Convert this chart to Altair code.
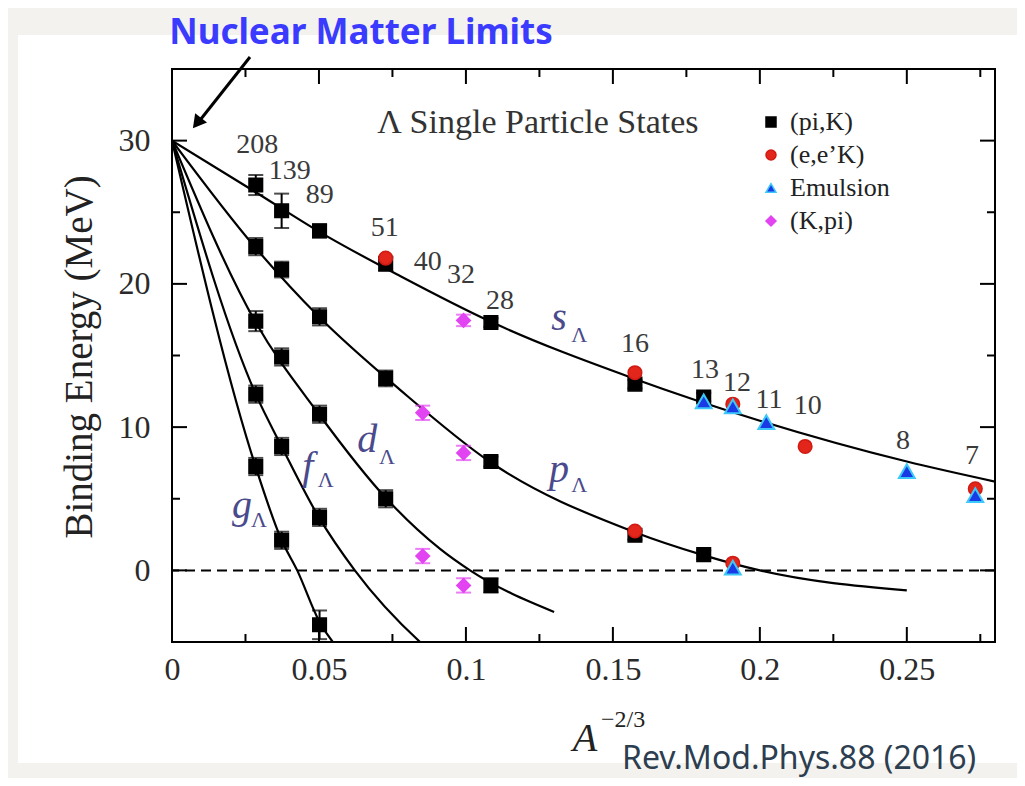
import altair as alt
import pandas as pd

# ---------------- data ----------------
x_domain = [0, 0.28]
y_domain = [-5, 35]
x_label_values = [0, 0.05, 0.1, 0.15, 0.2, 0.25]
x_major = [0.05, 0.10, 0.15, 0.20, 0.25]
x_minor = [0.025, 0.075, 0.125, 0.175, 0.225, 0.275]
y_major = [0, 10, 20, 30]
y_minor = [5, 15, 25]
zero_level = [0]

# model curves
s_x = [0, 0.0285, 0.05, 0.0776, 0.108, 0.157, 0.2, 0.25, 0.28]
s_y = [30, 26.4, 23.65, 20.55, 17.4, 13.4, 10.45, 7.6, 6.2]
p_x = [0, 0.0285, 0.05, 0.0776, 0.108, 0.157, 0.181, 0.2, 0.25]
p_y = [30, 22.5, 17.7, 12.6, 7.6, 2.7, 1.05, 0.0, -1.4]
d_x = [0, 0.0285, 0.05, 0.073, 0.0912, 0.1014, 0.13]
d_y = [30, 17.3, 10.9, 5.0, 1.5, 0.0, -2.9]
f_x = [0, 0.0285, 0.0373, 0.05, 0.0622, 0.0844, 0.09]
f_y = [30, 12.3, 8.65, 3.7, 0.0, -5.0, -6.0]
g_x = [0, 0.0285, 0.0373, 0.0426, 0.0502, 0.0547, 0.058]
g_y = [30, 7.2, 2.1, 0.0, -3.6, -5.0, -5.8]

# (pi,K)
pik_x = [0.0285, 0.0373, 0.0502, 0.0727, 0.1085, 0.1575, 0.1809,
         0.0285, 0.0373, 0.0502, 0.0727, 0.1085, 0.1575, 0.1809,
         0.0285, 0.0373, 0.0502, 0.0727, 0.1085,
         0.0285, 0.0373, 0.0502,
         0.0285, 0.0373, 0.0502]
pik_y = [26.9, 25.1, 23.7, 21.4, 17.3, 13.0, 12.1,
         22.6, 21.0, 17.7, 13.4, 7.6, 2.45, 1.1,
         17.4, 14.9, 10.9, 5.0, -1.05,
         12.3, 8.65, 3.7,
         7.25, 2.1, -3.8]
pik_err = [0.7, 1.2, 0.45, 0.5, 0.3, 0.3, 0.3,
           0.6, 0.55, 0.6, 0.55, 0.35, 0.3, 0.3,
           0.7, 0.6, 0.6, 0.6, 0.5,
           0.6, 0.6, 0.6,
           0.6, 0.6, 1.0]
# (e,e'K)
eek_x = [0.0727, 0.1575, 0.1908, 0.2154, 0.2733, 0.1575, 0.1908]
eek_y = [21.8, 13.8, 11.6, 8.65, 5.7, 2.75, 0.5]
# Emulsion
emu_x = [0.1809, 0.1908, 0.2022, 0.25, 0.2733, 0.1908]
emu_y = [11.8, 11.45, 10.35, 6.93, 5.25, 0.19]
# (K,pi)
kpi_x = [0.0992, 0.0853, 0.0992, 0.0853, 0.0992]
kpi_y = [17.45, 11.0, 8.2, 1.0, -1.05]
kpi_err = [0.4, 0.5, 0.5, 0.5, 0.5]

methods = ["(pi,K)", "(e,e\u2019K)", "Emulsion", "(K,pi)"]
method_fill = ["#000000", "#e3261c", "#1a3ae6", "#e244f2"]
method_stroke = ["#000000", "#d01a12", "#3cc8f8", "#e244f2"]
method_shape = ["square", "circle", "triangle-up", "diamond"]

nuc_labels = ["208", "139", "89", "51", "40", "32", "28", "16", "13", "12", "11", "10", "8", "7"]
nuc_x = [0.0290, 0.0401, 0.0503, 0.0724, 0.0870, 0.0983, 0.1116, 0.1575, 0.1813, 0.1922, 0.2031, 0.2163, 0.2487, 0.2722]
nuc_y = [29.7, 27.9, 26.2, 23.9, 21.55, 20.6, 18.8, 15.8, 14.0, 13.1, 11.9, 11.5, 9.0, 8.0]

state_letters = ["s", "p", "d", "f", "g"]
letter_x = [0.1290, 0.1283, 0.0630, 0.0443, 0.0204]
letter_y = [16.75, 6.14, 8.23, 6.4, 3.63]
lam_x = [0.1358, 0.1358, 0.0704, 0.0496, 0.0269]
lam_y = [15.95, 5.48, 7.44, 5.83, 3.04]

panel_title = ["\u039b Single Particle States"]
panel_title_x = [0.1245]
panel_title_y = [31.2]

# ---------------- frames ----------------
curves = pd.DataFrame(
    [{"state": n, "x": a, "y": b}
     for n, xs_, ys_ in [("s", s_x, s_y), ("p", p_x, p_y), ("d", d_x, d_y), ("f", f_x, f_y), ("g", g_x, g_y)]
     for a, b in zip(xs_, ys_)]
)
pts_rows = []
for m, xs_, ys_ in [(methods[0], pik_x, pik_y), (methods[1], eek_x, eek_y),
                    (methods[2], emu_x, emu_y), (methods[3], kpi_x, kpi_y)]:
    for a, b in zip(xs_, ys_):
        pts_rows.append({"method": m, "x": a, "y": b, "idx": len(pts_rows)})
points = pd.DataFrame(pts_rows)
emu_points = pd.DataFrame({"x": emu_x, "y": emu_y})

eb_pik = pd.DataFrame({"x": pik_x, "y": [y - e for y, e in zip(pik_y, pik_err)],
                       "hi": [y + e for y, e in zip(pik_y, pik_err)]})
eb_kpi = pd.DataFrame({"x": kpi_x, "y": [y - e for y, e in zip(kpi_y, kpi_err)],
                       "hi": [y + e for y, e in zip(kpi_y, kpi_err)]})
cap_pik = pd.DataFrame({"x": list(eb_pik.x) * 2, "y": list(eb_pik.y) + list(eb_pik.hi)})
cap_kpi = pd.DataFrame({"x": list(eb_kpi.x) * 2, "y": list(eb_kpi.y) + list(eb_kpi.hi)})

W, H = 823, 573
SERIF = "Liberation Serif"
xs = alt.Scale(domain=x_domain, nice=False, zero=False)
ys = alt.Scale(domain=y_domain, nice=False, zero=False)

AX_X = alt.Axis(values=x_label_values, format="~g", labelFont=SERIF, labelFontSize=32,
                labelColor="#2a2a2a", labelPadding=12, labelFlush=False, labelOverlap=False,
                domain=False, ticks=False, grid=False, zindex=2)
AX_Y = alt.Axis(values=y_major, labelFont=SERIF, labelFontSize=32, labelColor="#2a2a2a",
                labelPadding=22, labelOverlap=False, domain=False, ticks=False, grid=False, zindex=2)


def X():
    return alt.X("x:Q", scale=xs, axis=AX_X, title=None)


def Y():
    return alt.Y("y:Q", scale=ys, axis=AX_Y, title=None)


one = alt.Data(values=[{}])

# background panel (white card)
panel = alt.Chart(one).mark_rect(color="white").encode(
    x=alt.value(-154), x2=alt.value(870), y=alt.value(-34), y2=alt.value(694))

curve_layer = alt.Chart(curves).mark_line(
    clip=True, interpolate="monotone", color="black", strokeWidth=2.2
).encode(x=X(), y=Y(), detail="state:N")

zero_line = alt.Chart(pd.DataFrame({"y": zero_level})).mark_rule(
    strokeDash=[10, 6], strokeWidth=2, color="black").encode(y=Y())

# inward ticks
yt_major = pd.DataFrame({"y": y_major})
yt_minor = pd.DataFrame({"y": y_minor})
xt_major = pd.DataFrame({"x": x_major})
xt_minor = pd.DataFrame({"x": x_minor})
tick_layers = []
for df, L in [(yt_major, 15), (yt_minor, 8)]:
    tick_layers.append(alt.Chart(df).mark_rule(strokeWidth=2, color="black").encode(
        y=Y(), x=alt.value(0), x2=alt.value(L)))
    tick_layers.append(alt.Chart(df).mark_rule(strokeWidth=2, color="black").encode(
        y=Y(), x=alt.value(W - L), x2=alt.value(W)))
for df, L in [(xt_major, 15), (xt_minor, 8)]:
    tick_layers.append(alt.Chart(df).mark_rule(strokeWidth=2, color="black").encode(
        x=X(), y=alt.value(H - L), y2=alt.value(H)))
    tick_layers.append(alt.Chart(df).mark_rule(strokeWidth=2, color="black").encode(
        x=X(), y=alt.value(0), y2=alt.value(L)))

frame = alt.Chart(one).mark_rect(fillOpacity=0, stroke="black", strokeWidth=2).encode(
    x=alt.value(0), x2=alt.value(W), y=alt.value(0), y2=alt.value(H))

# error bars
eb1 = alt.Chart(eb_pik).mark_rule(color="black", strokeWidth=2).encode(x=X(), y=Y(), y2="hi:Q")
eb2 = alt.Chart(eb_kpi).mark_rule(color="#e244f2", strokeWidth=2).encode(x=X(), y=Y(), y2="hi:Q")
cp1 = alt.Chart(cap_pik).mark_tick(color="black", orient="horizontal", size=15, thickness=2).encode(x=X(), y=Y())
cp2 = alt.Chart(cap_kpi).mark_tick(color="#e244f2", orient="horizontal", size=15, thickness=2).encode(x=X(), y=Y())

leg = alt.Legend(orient="none", legendX=586, legendY=40, title=None, labelFont=SERIF, labelFontSize=26,
                 labelColor="#222222", symbolSize=100, symbolStrokeWidth=1.5, rowPadding=7, padding=0,
                 labelOffset=6, zindex=2)
pts = alt.Chart(points).mark_point(filled=True, opacity=1, strokeWidth=1.5, size=185).encode(
    x=X(), y=Y(),
    shape=alt.Shape("method:N", scale=alt.Scale(domain=methods, range=method_shape), legend=leg),
    fill=alt.Fill("method:N", scale=alt.Scale(domain=methods, range=method_fill), legend=leg),
    stroke=alt.Stroke("method:N", scale=alt.Scale(domain=methods, range=method_stroke), legend=leg),
    order=alt.Order("idx:Q"),
)
# emulsion triangles are drawn a little larger on top
emu_layer = alt.Chart(emu_points).mark_point(
    shape="triangle-up", filled=True, opacity=1, size=250, fill="#1a3ae6", stroke="#3cc8f8", strokeWidth=2
).encode(x=X(), y=Y())

nuc = alt.Chart(pd.DataFrame({"t": nuc_labels, "x": nuc_x, "y": nuc_y})).mark_text(
    font=SERIF, fontSize=28, color="#3a3a3a", baseline="middle", align="center").encode(x=X(), y=Y(), text="t:N")

letters = alt.Chart(pd.DataFrame({"t": state_letters, "x": letter_x, "y": letter_y})).mark_text(
    font=SERIF, fontStyle="italic", fontSize=40, color="#4a4a8c", align="left", baseline="alphabetic"
).encode(x=X(), y=Y(), text="t:N")
lams = alt.Chart(pd.DataFrame({"t": ["\u039b"] * 5, "x": lam_x, "y": lam_y})).mark_text(
    font=SERIF, fontSize=22, color="#4a4a8c", align="left", baseline="alphabetic"
).encode(x=X(), y=Y(), text="t:N")

ptitle = alt.Chart(pd.DataFrame({"t": panel_title, "x": panel_title_x, "y": panel_title_y})).mark_text(
    font=SERIF, fontSize=34, color="#333333", align="center", baseline="middle").encode(x=X(), y=Y(), text="t:N")

# axis titles
ytitle = alt.Chart(one).mark_text(text="Binding Energy (MeV)", font=SERIF, fontSize=39, color="#222222",
                                  angle=270, align="center", baseline="middle").encode(
    x=alt.value(-92), y=alt.value(288))
xtitle_a = alt.Chart(one).mark_text(text="A", font=SERIF, fontStyle="italic", fontSize=40, color="#222222",
                                    align="center", baseline="middle").encode(x=alt.value(413), y=alt.value(670))
xtitle_e = alt.Chart(one).mark_text(text="\u22122/3", font=SERIF, fontSize=24, color="#222222",
                                    align="left", baseline="middle").encode(x=alt.value(429), y=alt.value(651))

# decorations outside the figure
headline = alt.Chart(one).mark_text(text="Nuclear Matter Limits", font="Noto Sans", fontWeight="bold",
                                    fontSize=35, color="#3b3bff", align="center", baseline="alphabetic").encode(
    x=alt.value(189), y=alt.value(-25))
cite = alt.Chart(one).mark_text(text="Rev.Mod.Phys.88 (2016)", font="Noto Sans", fontSize=32,
                                color="#2c3e50", align="left", baseline="alphabetic").encode(
    x=alt.value(450), y=alt.value(700))
arrow_line = alt.Chart(one).mark_rule(color="black", strokeWidth=3).encode(
    x=alt.value(78), y=alt.value(-12), x2=alt.value(25), y2=alt.value(55))
arrow_head = alt.Chart(one).mark_point(shape="triangle-up", filled=True, color="black", size=230,
                                       angle=218.5, opacity=1).encode(x=alt.value(25), y=alt.value(54))

chart = alt.layer(
    panel, frame, *tick_layers, zero_line, curve_layer, eb1, eb2, cp1, cp2, pts, emu_layer, nuc, letters, lams,
    ptitle, ytitle, xtitle_a, xtitle_e, headline, cite, arrow_line, arrow_head
).properties(
    width=W, height=H,
    autosize=alt.AutoSizeParams(type="none"),
    padding={"left": 164, "top": 61, "right": 22, "bottom": 136},
).configure(background="#f4f2ee").configure_view(stroke="transparent")

chart.save("out.html", embed_options={"renderer": "svg", "actions": False})
